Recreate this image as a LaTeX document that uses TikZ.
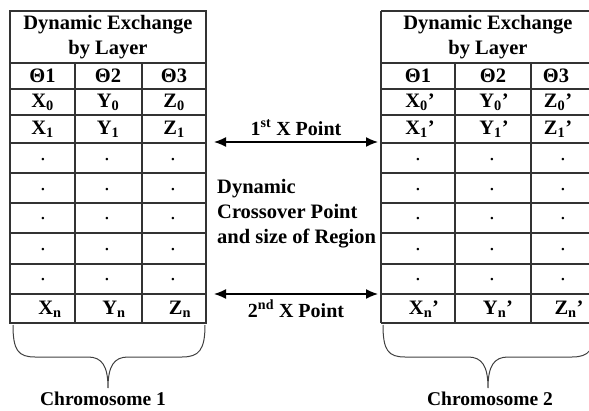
\documentclass[tikz,border=0pt]{standalone}
\usepackage{fontspec}
\setmainfont{Liberation Serif}
\usetikzlibrary{arrows.meta}
\begin{document}
\begin{tikzpicture}[x=1pt,y=-1pt,
  grid/.style={draw=black!80,line width=1.2pt},
  cell/.style={inner sep=0pt,font=\fontsize{20.5}{22}\selectfont\bfseries},
  ttl/.style={inner sep=0pt,align=center,font=\fontsize{20.5}{25}\selectfont\bfseries},
  dotc/.style={inner sep=0pt,font=\fontsize{21}{22}\selectfont},
  lbl/.style={inner sep=0pt,anchor=base,font=\fontsize{20}{22}\selectfont\bfseries},
  midtxt/.style={inner sep=0pt,anchor=base west,font=\fontsize{20.5}{22}\selectfont\bfseries},
  chrom/.style={inner sep=0pt,anchor=base,font=\fontsize{19.5}{22}\selectfont\bfseries},
  xarrow/.style={draw=black,line width=1.4pt,{Latex[length=12pt,width=10pt]}-{Latex[length=12pt,width=10pt]}},
  brace/.style={draw=black!75,line width=1pt}]
\useasboundingbox (0,0) rectangle (589,410);
\clip (0,0) rectangle (589,410);

% ---------- table of chromosome 1 ----------
\draw[grid] (10,11) rectangle (206,323);
\foreach \y in {63,89,115,143,173,203,233,264,294}
  \draw[grid] (10,\y) -- (206,\y);
\foreach \x in {75,142}
  \draw[grid] (\x,63) -- (\x,323);

\node[ttl] (t1) at (108,37.5) {Dynamic Exchange\\by Layer};
\node[cell] (a11) at (42.5,76) {Θ1};
\node[cell] (a12) at (108,76) {Θ2};
\node[cell] (a13) at (174,76) {Θ3};
\node[cell] (a21) at (42.5,102) {X\textsubscript{0}};
\node[cell] (a22) at (108,102) {Y\textsubscript{0}};
\node[cell] (a23) at (174,102) {Z\textsubscript{0}};
\node[cell] (a31) at (42.5,129) {X\textsubscript{1}};
\node[cell] (a32) at (108,129) {Y\textsubscript{1}};
\node[cell] (a33) at (174,129) {Z\textsubscript{1}};
\foreach \y [count=\i] in {160,190,219,250,280}{
  \node[dotc] (ad\i a) at (43,\y) {.};
  \node[dotc] (ad\i b) at (107,\y) {.};
  \node[dotc] (ad\i c) at (173,\y) {.};
}
\node[cell] (an1) at (50,309) {X\textsubscript{n}};
\node[cell] (an2) at (114,309) {Y\textsubscript{n}};
\node[cell] (an3) at (180,309) {Z\textsubscript{n}};

% ---------- table of chromosome 2 ----------
\draw[grid] (381,11) -- (381,323);
\foreach \y in {11,63,89,115,143,173,203,233,264,294,323}
  \draw[grid] (381,\y) -- (600,\y);
\foreach \x in {455,531}
  \draw[grid] (\x,63) -- (\x,323);

\node[ttl] (t2) at (488,37.5) {Dynamic Exchange\\by Layer};
\node[cell] (b11) at (418,76) {Θ1};
\node[cell] (b12) at (493,76) {Θ2};
\node[cell] (b13) at (556,76) {Θ3};
\node[cell] (b21) at (420,102) {X\textsubscript{0}’};
\node[cell] (b22) at (494,102) {Y\textsubscript{0}’};
\node[cell] (b23) at (558,102) {Z\textsubscript{0}’};
\node[cell] (b31) at (420,129) {X\textsubscript{1}’};
\node[cell] (b32) at (494,129) {Y\textsubscript{1}’};
\node[cell] (b33) at (558,129) {Z\textsubscript{1}’};
\foreach \y [count=\i] in {160,190,219,250,280}{
  \node[dotc] (bd\i a) at (418,\y) {.};
  \node[dotc] (bd\i b) at (492,\y) {.};
  \node[dotc] (bd\i c) at (563,\y) {.};
}
\node[cell] (bn1) at (424,309) {X\textsubscript{n}’};
\node[cell] (bn2) at (498,309) {Y\textsubscript{n}’};
\node[cell] (bn3) at (569,309) {Z\textsubscript{n}’};

% ---------- crossover points ----------
\coordinate (p1l) at (214,142);
\coordinate (p1r) at (378,142);
\coordinate (p2l) at (214,294);
\coordinate (p2r) at (378,294);
\draw[xarrow] (p1l) -- (p1r);
\draw[xarrow] (p2l) -- (p2r);
\node[lbl] (l1) at (296,135) {1\textsuperscript{st} X Point};
\node[lbl] (l2) at (296,317) {2\textsuperscript{nd} X Point};
\node[midtxt] (m1) at (217,193) {Dynamic};
\node[midtxt] (m2) at (217,218) {Crossover Point};
\node[midtxt] (m3) at (217,243) {and size of Region};

% ---------- braces ----------
\draw[brace] (13,325) .. controls (13,350) and (18,357) .. (35,357)
  -- (88,357) .. controls (102,357) and (108,366) .. (108,388)
  .. controls (108,366) and (114,357) .. (128,357)
  -- (182,357) .. controls (199,357) and (205,350) .. (205,325);
\draw[brace] (383,325) .. controls (383,350) and (388,357) .. (405,357)
  -- (468,357) .. controls (482,357) and (488,366) .. (488,388)
  .. controls (488,366) and (494,357) .. (508,357)
  -- (572,357) .. controls (589,357) and (595,350) .. (595,325);
\node[chrom] (c1) at (103,405) {Chromosome 1};
\node[chrom] (c2) at (490,405) {Chromosome 2};
\end{tikzpicture}
\end{document}
